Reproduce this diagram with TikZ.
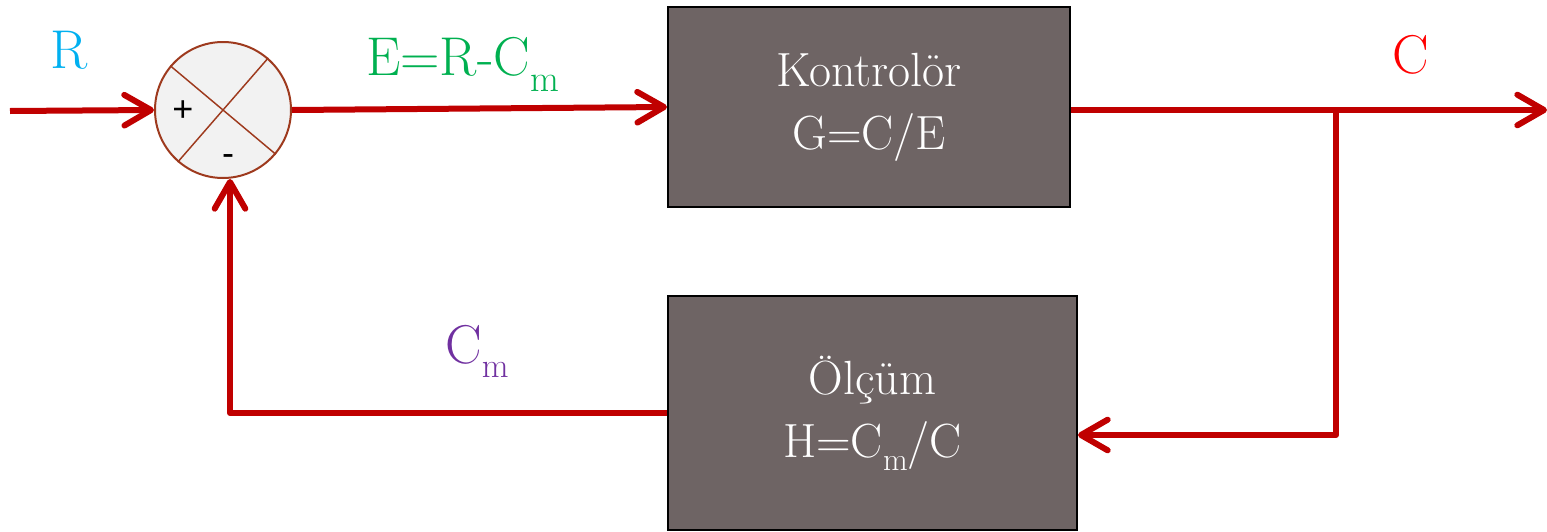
\documentclass[tikz,border=0pt]{standalone}
\usepackage{fontspec}
\newfontfamily\sumfont{Liberation Sans}
\usetikzlibrary{arrows.meta}
\definecolor{lred}{HTML}{C00000}
\definecolor{lblue}{HTML}{00B0F0}
\definecolor{lgreen}{HTML}{00B050}
\definecolor{lpurple}{HTML}{7030A0}
\definecolor{cred}{HTML}{FF0000}
\definecolor{boxfill}{HTML}{6E6464}
\definecolor{sumedge}{HTML}{9E3A1E}
\definecolor{sumfill}{HTML}{F2F2F2}
\newcommand{\lsub}[3]{\raisebox{-#2}{\fontsize{#1}{#1}\selectfont #3}}
\begin{document}
\begin{tikzpicture}[x=0.75pt,y=-0.75pt,
 conn/.style={draw=lred,line width=4.5pt,line join=round},
 arr/.style={conn,-{Straight Barb[length=20pt,width=23pt,line cap=round,line join=round]}},
 blockbox/.style={draw=black,line width=1.5pt,fill=boxfill,text=white,align=center,
   font=\fontsize{36}{47.25}\selectfont,inner sep=0pt},
 lab/.style={font=\fontsize{41}{41}\selectfont,inner sep=0pt,anchor=base west},
 sign/.style={font=\sumfont\fontsize{27}{27}\selectfont,inner sep=0pt},
 sumnode/.style={circle,draw=sumedge,line width=1.5pt,fill=sumfill,minimum size=102pt,inner sep=0pt}]
\useasboundingbox (0,0) rectangle (1547,532);

% summing junction
\node[sumnode] (sum) at (223,110) {};
\draw[sumedge,line width=1.1pt] (sum.140) -- (sum.-40);
\draw[sumedge,line width=1.1pt] (sum.49) -- (sum.229);
\node[sign] (plus) at (183,111) {+};
\node[sign] (minus) at (228,160) {-};

% blocks
\node[blockbox,minimum width=301.5pt,minimum height=150pt] (ctrl) at (869,107)
  {Kontrolör\\G=C/E};
\node[blockbox,minimum width=306.75pt,minimum height=175.5pt] (meas) at (872.5,413)
  {Ölçüm\\H=C\lsub{24pt}{10pt}{m}/C};

% labels
\node[lab,text=lblue] (lR) at (50,68) {R};
\node[lab,text=lgreen] (lE) at (366,75) {E=R-C\lsub{28pt}{12pt}{m}};
\node[lab,text=cred] (lC) at (1392,73) {C};
\node[lab,text=lpurple] (lCm) at (445,363) {C\lsub{26pt}{10.5pt}{m}};

% connectors
\coordinate (in) at (10,111);
\coordinate (out) at (1547,110);
\coordinate (br) at (1336,110);
\draw[arr] (in) -- (sum.west);
\draw[arr] (sum.east) -- (ctrl.west);
\draw[arr] ([yshift=-2.25pt]ctrl.east) -- (out);
\draw[arr] (br) |- ([yshift=-16.5pt]meas.east);
\draw[arr] (meas.west) -| ([xshift=5.25pt]sum.south);
\end{tikzpicture}
\end{document}
